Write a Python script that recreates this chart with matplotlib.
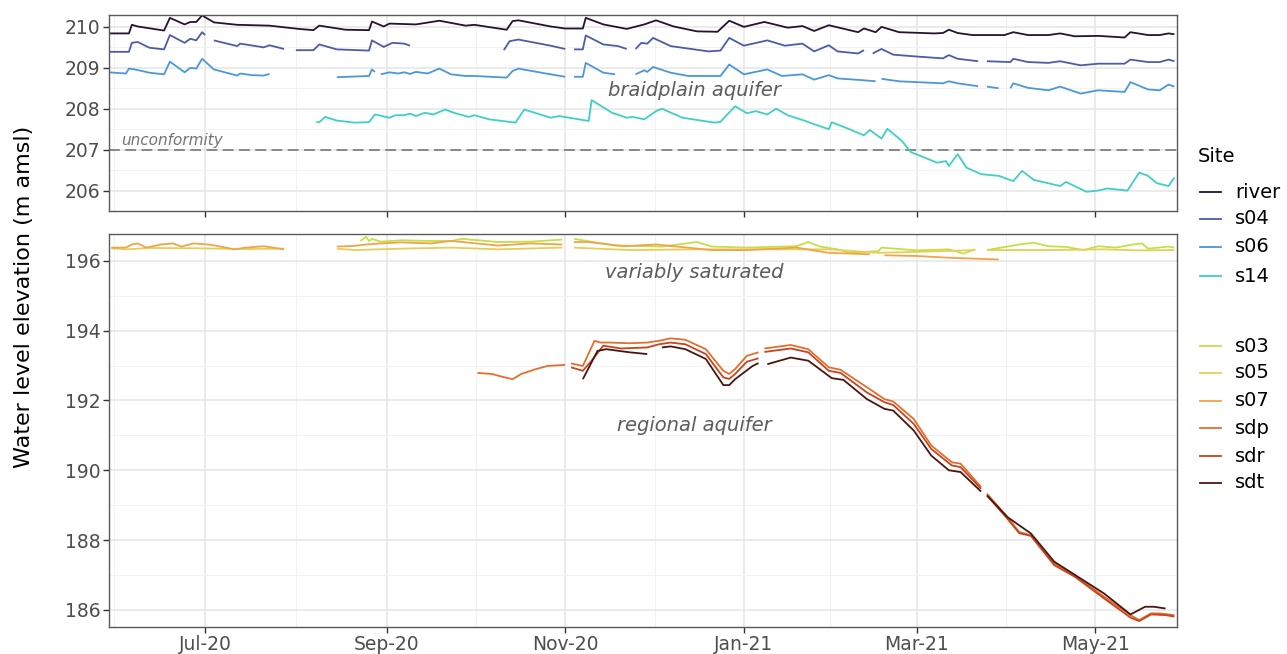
import numpy as np
import pandas as pd
import matplotlib.pyplot as plt
import matplotlib.dates as mdates
from matplotlib.lines import Line2D

# logger records: (days since 29 May 2020, water level in m amsl); None marks a data gap
T0 = pd.Timestamp('2020-05-29')

river = [(0, 209.84), (7, 209.84), (8, 210.05), (10, 210.01), (19, 209.91), (21, 210.22), (26, 210.06),
         (28, 210.12), (30, 210.12), (32, 210.28), (36, 210.11), (44, 210.05), (55, 210.03), (65, 209.95),
         (70, 209.92), (72, 210.03), (81, 209.93), (89, 209.92), (90, 210.13), (94, 210.01), (96, 210.08),
         (105, 210.06), (113, 210.15), (122, 210.03), (125, 210.05), (136, 209.93), (138, 210.14),
         (140, 210.16), (151, 210.01), (156, 209.96), (162, 209.96), (163, 210.22), (169, 210.06),
         (177, 209.95), (183, 210.06), (187, 210.16), (193, 210.01), (201, 209.89), (208, 209.88),
         (212, 210.15), (217, 210.00), (224, 210.12), (232, 209.98), (237, 210.02), (241, 209.90),
         (246, 210.04), (256, 209.87), (258, 209.96), (262, 209.87), (264, 210.00), (270, 209.87),
         (282, 209.84), (285, 209.85), (287, 209.93), (290, 209.85), (295, 209.80), (306, 209.80),
         (309, 209.87), (314, 209.80), (321, 209.80), (325, 209.84), (330, 209.77), (338, 209.78),
         (347, 209.74), (349, 209.87), (355, 209.80), (359, 209.80), (362, 209.84), (364, 209.82)]

s04 = [(0, 209.39), (7, 209.39), (8, 209.61), (10, 209.63), (14, 209.49), (19, 209.45), (21, 209.80),
       (26, 209.61), (28, 209.71), (30, 209.67), (32, 209.87), (33, 209.80), (34, None), (36, 209.67),
       (44, 209.53), (45, 209.59), (53, 209.50), (55, 209.55), (60, 209.46), (62, None), (64, 209.43),
       (70, 209.43), (72, 209.57), (78, 209.45), (89, 209.42), (90, 209.67), (94, 209.51), (97, 209.61),
       (101, 209.59), (103, 209.54), (120, None), (135, 209.43), (137, 209.65), (140, 209.69),
       (151, 209.54), (156, 209.46), (157, None), (159, 209.45), (162, 209.45), (163, 209.79),
       (169, 209.57), (174, 209.53), (177, 209.46), (178, None), (180, 209.46), (182, 209.61),
       (184, 209.59), (186, 209.73), (192, 209.53), (205, 209.40), (209, 209.42), (212, 209.73),
       (217, 209.54), (225, 209.67), (231, 209.54), (237, 209.59), (241, 209.40), (246, 209.55),
       (249, 209.40), (256, 209.35), (258, 209.43), (259, None), (261, 209.35), (264, 209.46),
       (268, 209.32), (277, 209.27), (285, 209.23), (287, 209.31), (290, 209.22), (297, 209.16),
       (298, None), (300, 209.16), (308, 209.14), (309, 209.22), (314, 209.14), (321, 209.12),
       (325, 209.16), (332, 209.06), (338, 209.10), (347, 209.10), (349, 209.20), (355, 209.14),
       (359, 209.14), (362, 209.20), (364, 209.16)]

s06 = [(0, 208.89), (6, 208.86), (7, 208.98), (9, 208.96), (14, 208.88), (19, 208.84), (21, 209.15),
       (26, 208.89), (28, 209.00), (30, 208.98), (32, 209.22), (36, 208.96), (44, 208.81), (45, 208.86),
       (49, 208.82), (53, 208.81), (55, 208.85), (65, None), (78, 208.77), (89, 208.80), (90, 208.96),
       (91, 208.90), (92, None), (93, 208.84), (96, 208.89), (99, 208.86), (101, 208.89), (103, 208.85),
       (105, 208.90), (109, 208.86), (113, 208.98), (117, 208.84), (122, 208.80), (125, 208.80),
       (136, 208.76), (138, 208.92), (140, 208.98), (151, 208.84), (156, 208.78), (157, None),
       (159, 208.78), (162, 208.78), (163, 209.12), (169, 208.88), (173, 208.84), (176, None),
       (180, 208.84), (183, 208.94), (184, 208.90), (186, 209.02), (192, 208.88), (198, 208.80),
       (209, 208.80), (212, 209.08), (217, 208.84), (225, 208.96), (230, 208.80), (237, 208.84),
       (241, 208.71), (246, 208.82), (249, 208.74), (257, 208.70), (262, 208.67), (263, None),
       (264, 208.73), (270, 208.67), (285, 208.62), (287, 208.67), (290, 208.62), (297, 208.55),
       (298, None), (300, 208.54), (304, 208.50), (306, None), (308, 208.50), (309, 208.62),
       (314, 208.51), (321, 208.45), (325, 208.54), (332, 208.37), (338, 208.45), (347, 208.41),
       (349, 208.65), (355, 208.47), (359, 208.45), (362, 208.59), (364, 208.54)]

s14 = [(71, 207.67), (72, 207.67), (74, 207.80), (78, 207.71), (84, 207.66), (89, 207.67), (91, 207.86),
       (96, 207.78), (98, 207.84), (101, 207.84), (103, 207.88), (105, 207.82), (108, 207.90),
       (111, 207.86), (115, 207.98), (118, 207.90), (123, 207.80), (125, 207.84), (130, 207.74),
       (139, 207.66), (142, 207.98), (151, 207.78), (154, 207.82), (164, 207.70), (165, 208.21),
       (172, 207.90), (177, 207.78), (179, 207.80), (183, 207.74), (187, 207.94), (189, 208.00),
       (196, 207.78), (207, 207.66), (209, 207.68), (214, 208.06), (218, 207.89), (221, 207.94),
       (225, 207.86), (228, 208.00), (232, 207.84), (238, 207.70), (241, 207.62), (246, 207.50),
       (247, 207.67), (253, 207.50), (258, 207.35), (260, 207.48), (264, 207.27), (266, 207.51),
       (271, 207.21), (274, 206.94), (283, 206.68), (286, 206.72), (287, 206.60), (290, 206.89),
       (293, 206.56), (298, 206.40), (304, 206.36), (309, 206.23), (312, 206.48), (316, 206.26),
       (325, 206.11), (327, 206.21), (334, 205.97), (338, 206.00), (341, 206.05), (348, 206.00),
       (352, 206.44), (355, 206.36), (358, 206.18), (362, 206.11), (364, 206.32)]

s03 = [(86, 196.57), (88, 196.69), (89, 196.57), (90, 196.63), (93, 196.55), (100, 196.59), (110, 196.57),
       (117, 196.57), (121, 196.63), (133, 196.54), (144, 196.55), (155, 196.61), (157, None),
       (159, 196.63), (167, 196.52), (173, 196.44), (189, 196.41), (201, 196.54), (206, 196.41),
       (218, 196.38), (235, 196.42), (239, 196.54), (243, 196.41), (249, 196.33), (253, 196.23),
       (263, 196.28), (264, 196.38), (276, 196.30), (287, 196.33), (292, 196.21), (296, 196.33),
       (298, None), (300, 196.31), (307, 196.41), (311, 196.47), (316, 196.52), (321, 196.42),
       (327, 196.40), (333, 196.31), (338, 196.42), (344, 196.38), (350, 196.47), (353, 196.50),
       (355, 196.35), (362, 196.41), (364, 196.38)]

s05 = [(1, 196.36), (6, 196.33), (14, 196.37), (31, 196.36), (45, 196.34), (60, 196.35), (70, None),
       (78, 196.35), (84, 196.31), (100, 196.35), (117, 196.38), (133, 196.33), (155, 196.38),
       (157, None), (159, 196.38), (178, 196.31), (201, 196.33), (224, 196.33), (246, 196.33),
       (263, 196.23), (285, 196.28), (296, 196.31), (298, None), (300, 196.31), (321, 196.31),
       (340, 196.33), (352, 196.30), (364, 196.31)]

s07 = [(1, 196.38), (6, 196.38), (8, 196.47), (10, 196.50), (13, 196.38), (18, 196.47), (22, 196.50),
       (25, 196.41), (29, 196.50), (34, 196.47), (37, 196.43), (43, 196.33), (47, 196.38), (53, 196.42),
       (60, 196.33), (70, None), (78, 196.41), (84, 196.43), (88, 196.47), (93, 196.50), (100, 196.53),
       (110, 196.50), (117, 196.57), (121, 196.54), (133, 196.44), (144, 196.50), (155, 196.47),
       (157, None), (159, 196.54), (164, 196.54), (176, 196.42), (187, 196.47), (206, 196.31),
       (218, 196.31), (235, 196.38), (246, 196.23), (260, 196.19), (262, None), (265, 196.16),
       (276, 196.14), (287, 196.09), (304, 196.04)]

sdp = [(126, 192.79), (131, 192.76), (134, 192.69), (138, 192.61), (141, 192.76), (146, 192.90),
       (150, 192.99), (156, 193.02), (157, None), (158, 193.06), (162, 192.99), (166, 193.71),
       (168, 193.66), (171, 193.66), (178, 193.64), (184, 193.66), (188, 193.71), (192, 193.78),
       (197, 193.74), (204, 193.47), (210, 192.85), (212, 192.76), (214, 192.90), (218, 193.28),
       (222, 193.38), (223, None), (224, 193.49), (233, 193.59), (239, 193.47), (246, 192.95),
       (250, 192.88), (259, 192.38), (265, 192.04), (268, 191.97), (275, 191.47), (281, 190.71),
       (288, 190.23), (291, 190.19), (298, 189.52), (299, None), (300, 189.33), (307, 188.66),
       (311, 188.23), (315, 188.14), (323, 187.33), (330, 186.99), (340, 186.38), (349, 185.85),
       (352, 185.71), (356, 185.90), (359, 185.90), (364, 185.85)]

sdr = [(158, 192.95), (162, 192.85), (165, 193.14), (169, 193.57), (175, 193.49), (184, 193.52),
       (188, 193.61), (192, 193.66), (197, 193.61), (204, 193.33), (210, 192.66), (212, 192.62),
       (214, 192.76), (218, 193.11), (222, 193.21), (223, None), (224, 193.39), (233, 193.49),
       (239, 193.38), (246, 192.85), (250, 192.79), (259, 192.23), (265, 191.95), (268, 191.87),
       (275, 191.33), (281, 190.61), (288, 190.14), (291, 190.09), (298, 189.47), (299, None),
       (300, 189.28), (307, 188.61), (311, 188.20), (315, 188.12), (323, 187.28), (330, 186.95),
       (340, 186.33), (349, 185.78), (352, 185.68), (356, 185.87), (361, 185.85), (364, 185.81)]

sdt = [(162, 192.61), (167, 193.42), (170, 193.47), (178, 193.38), (184, 193.33), (186, None),
       (189, 193.52), (192, 193.55), (197, 193.47), (204, 193.19), (210, 192.44), (212, 192.44),
       (214, 192.61), (220, 192.99), (222, 193.07), (223, None), (225, 193.04), (233, 193.23),
       (239, 193.14), (247, 192.64), (251, 192.59), (259, 192.04), (265, 191.76), (268, 191.71),
       (275, 191.14), (281, 190.42), (287, 190.00), (291, 189.95), (298, 189.39), (299, None),
       (300, 189.28), (307, 188.66), (315, 188.19), (323, 187.38), (340, 186.47), (349, 185.87),
       (354, 186.09), (357, 186.09), (361, 186.04)]

upper_sites = {'river': river, 's04': s04, 's06': s06, 's14': s14}
lower_sites = {'s03': s03, 's05': s05, 's07': s07, 'sdp': sdp, 'sdr': sdr, 'sdt': sdt}
site_colors = {'river': '#26142e', 's04': '#4d5ca8', 's06': '#4b98d6', 's14': '#3fcfc6',
               's03': '#c6df44', 's05': '#e5cf58', 's07': '#f0a44a', 'sdp': '#e46e2c',
               'sdr': '#c6441e', 'sdt': '#4a1612'}

unconformity = 207.0
labels_upper = [('braidplain aquifer', 200, 208.45)]
labels_lower = [('variably saturated', 200, 195.68), ('regional aquifer', 200, 191.28)]


def unpack(pts):
    days = [p[0] for p in pts]
    vals = np.array([np.nan if p[1] is None else p[1] for p in pts], dtype=float)
    return T0 + pd.to_timedelta(days, unit='D'), vals


W, H = 1287, 654
fig = plt.figure(figsize=(W / 100, H / 100), dpi=100)
fig.patch.set_facecolor('white')
ax1 = fig.add_axes([109 / W, 1 - 211 / H, 1068 / W, 196 / H])
ax2 = fig.add_axes([109 / W, 1 - 627 / H, 1068 / W, 393 / H])

# date breaks every two months, minor grid halfway between them
majors = mdates.date2num(pd.to_datetime(['2020-07-01', '2020-09-01', '2020-11-01',
                                         '2021-01-01', '2021-03-01', '2021-05-01']))
step = np.diff(majors)
minors = np.concatenate([[majors[0] - step[0] / 2], majors[:-1] + step / 2])
xlim = (T0 + pd.Timedelta(days=0.2), T0 + pd.Timedelta(days=364.9))

for ax in (ax1, ax2):
    ax.set_facecolor('white')
    for sp in ax.spines.values():
        sp.set_color('#5a5a5a')
        sp.set_linewidth(1.0)
    ax.set_xticks(majors)
    ax.set_xticks(minors, minor=True)
    ax.xaxis.set_major_formatter(mdates.DateFormatter('%b-%y'))
    ax.set_xlim(xlim)
    ax.grid(which='major', color='#e6e6e6', lw=1.1)
    ax.grid(which='minor', color='#f0f0f0', lw=0.6)
    ax.set_axisbelow(True)
    ax.tick_params(which='major', length=4, width=1, color='#333333',
                   labelcolor='#4d4d4d', labelsize=13.5, pad=2)
    ax.tick_params(which='minor', length=0)

ax1.tick_params(labelbottom=False)
ax1.set_ylim(205.51, 210.29)
ax1.set_yticks(np.arange(206, 211, 1))
ax1.set_yticks(np.arange(205.5, 210.5, 1), minor=True)
ax2.set_ylim(185.51, 196.77)
ax2.set_yticks(np.arange(186, 197, 2))
ax2.set_yticks(np.arange(187, 196, 2), minor=True)

for name, pts in upper_sites.items():
    d, v = unpack(pts)
    ax1.plot(d, v, color=site_colors[name], lw=1.3, solid_capstyle='butt')
for name, pts in lower_sites.items():
    d, v = unpack(pts)
    ax2.plot(d, v, color=site_colors[name], lw=1.3, solid_capstyle='butt')

ax1.axhline(unconformity, color='#808080', lw=1.3, ls=(0, (6, 3)), zorder=1.5)
ax1.text(T0 + pd.Timedelta(days=4.5), unconformity + 0.23, 'unconformity',
         fontsize=11, style='italic', color='#737373', va='center', ha='left')
for txt, day, lvl in labels_upper:
    ax1.text(T0 + pd.Timedelta(days=day), lvl, txt, fontsize=14, style='italic',
             color='#5c5c5c', ha='center', va='center')
for txt, day, lvl in labels_lower:
    ax2.text(T0 + pd.Timedelta(days=day), lvl, txt, fontsize=14, style='italic',
             color='#5c5c5c', ha='center', va='center')

fig.text(24 / W, 1 - 297 / H, 'Water level elevation (m amsl)', rotation=90,
         ha='center', va='center', fontsize=16, color='black')

# legend: two stacked guides, the first one titled
fig.text(1198 / W, 1 - 157 / H, 'Site', fontsize=14, ha='left', va='center')
rows = [('river', 192), ('s04', 219), ('s06', 247), ('s14', 276),
        ('s03', 346), ('s05', 373), ('s07', 401), ('sdp', 428), ('sdr', 456), ('sdt', 483)]
for name, ypx in rows:
    yf = 1 - ypx / H
    fig.add_artist(Line2D([1200 / W, 1221 / W], [yf, yf], color=site_colors[name], lw=1.3))
    fig.text(1235 / W, yf, name, fontsize=14, ha='left', va='center')

fig.savefig('out.png', dpi=100)
